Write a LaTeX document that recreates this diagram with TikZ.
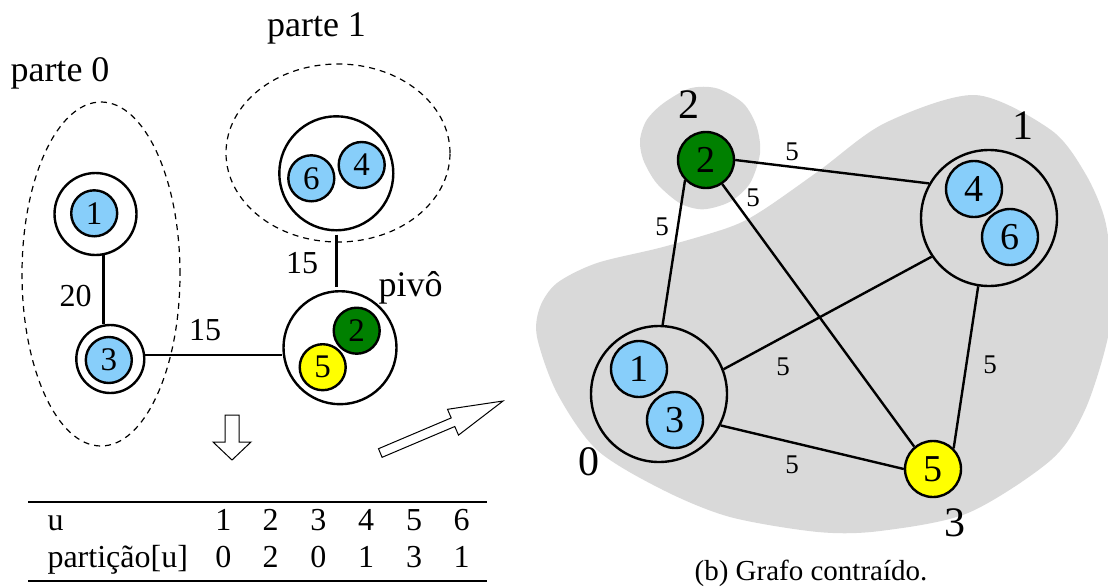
\documentclass[tikz,border=0pt]{standalone}
\usepackage{fontspec}
\setmainfont{Liberation Serif}
\usetikzlibrary{positioning, calc}
\definecolor{bluenode}{RGB}{135,206,250}
\definecolor{greennode}{HTML}{008000}
\definecolor{yellownode}{HTML}{FFFF00}
\definecolor{blobgray}{HTML}{D9D9D9}
\newcommand{\fs}[1]{\fontsize{#1}{#1}\selectfont}

\begin{document}
\begin{tikzpicture}[x=1pt, y=-1pt, line width=2.4pt,
    leftv/.style={circle, draw, fill=bluenode, inner sep=0pt, minimum size=46pt, font=\fs{33}},
    rightv/.style={circle, draw, fill=bluenode, inner sep=0pt, minimum size=56pt, font=\fs{38}},
    grp/.style={circle, draw, inner sep=0pt, minimum size=#1},
    txt/.style={font=\fs{32}, anchor=base},
    wlabel/.style={font=\fs{27}},
    plabel/.style={font=\fs{42}},
    partline/.style={line width=1.2pt, dash pattern=on 6pt off 5pt},
    hollow/.style={line width=1pt, fill=white}]
    \useasboundingbox (0,0) rectangle (1108,587);
    % Left: partition of the graph
    \draw[partline] (101,274) ellipse [x radius=79pt, y radius=172pt];
    \draw[partline] (338,153) ellipse [x radius=112pt, y radius=89pt];
    \node[txt, font=\fs{36}] (parte0) at (60,81.7) {parte 0};
    \node[txt, font=\fs{36}] (parte1) at (316.5,36) {parte 1};
    % groups and vertices
    \node[grp=82pt] (g1) at (95.5,214) {};
    \node[leftv] (a1) at (94.2,213.3) {1};
    \node[grp=68pt] (g3) at (110.3,359) {};
    \node[leftv] (a3) at (108.8,360) {3};
    \node[grp=113pt] (piv) at (340,347.7) {};
    \node[leftv, fill=greennode] (a2) at (356.7,330.7) {2};
    \node[leftv, fill=yellownode] (a5) at (322.7,367.2) {5};
    \node[grp=114pt] (g46) at (336.3,173.3) {};
    \node[leftv] (a6) at (311.3,178.3) {6};
    \node[leftv] (a4) at (361.7,165) {4};
    % edges
    \draw (g1.-79) -- (g1.-79 |- g3.north);
    \draw (g3.7) -- (g3.7 -| piv.west);
    \draw[shorten <=3pt, shorten >=3pt] (g46.south) -- (g46.south |- piv.north);
    \node[txt] (w20) at (75.5,306.7) {20};
    \node[txt] (w15a) at (205,340) {15};
    \node[txt] (w15b) at (302,273) {15};
    \node[txt, font=\fs{36}, anchor=base west] (pivo) at (374,296.7) {pivô};
    % hollow arrows
    \draw[hollow] (225,415) -- (239,415) -- (239,442) -- (251,442) -- (232,460)
      -- (213,442) -- (225,442) -- cycle;
    \draw[hollow] (382.1,457.3) -- (454.8,426.5) -- (458.5,435.1) -- (503,401)
      -- (447.5,409.3) -- (451.2,417.9) -- (378.5,448.7) -- cycle;
    % table
    \draw[line width=1.2pt] (28,502) -- (487,502);
    \draw[line width=1.2pt] (28,581) -- (487,581);
    \node[txt, anchor=base west] (hu) at (43,530) {u};
    \node[txt, anchor=base west] (hp) at (43,567.3) {partição[u]};
    \foreach \cx/\uu/\pp [count=\i] in {223.3/1/0, 270.7/2/2, 318.3/3/0, 366/4/1, 414/5/3, 461.7/6/1} {
      \node[txt] (tu\i) at (\cx,530) {\uu};
      \node[txt] (tp\i) at (\cx,567.3) {\pp};
    }
    % Right: contracted graph
    \fill[blobgray] plot[smooth cycle] coordinates {(540,307) (557,283) (597,263)
      (663,247) (730,227) (763,210) (820,170) (885,123) (975,95) (1051,130)
      (1085,173) (1105,220) (1112,280) (1108,337) (1085,410) (1051,460)
      (968,513) (880,531) (818,532) (730,517) (663,490) (597,450) (557,393) (537,337)};
    \fill[blobgray] plot[smooth cycle] coordinates {(640,140) (643.3,160)
      (656.7,183.3) (680,203.3) (703.3,209.3) (730,201.7) (750,183.3) (760,153.3)
      (756.7,126.7) (743.3,103.3) (716.7,88.3) (690,88.3) (663.3,103.3) (646.7,120)};
    \node[grp=136pt] (c13) at (659,394) {};
    \node[rightv] (b1) at (639,369) {1};
    \node[rightv] (b3) at (675,420) {3};
    \node[grp=136pt] (c46) at (989,218) {};
    \node[rightv] (b4) at (974,189) {4};
    \node[rightv] (b6) at (1010,237) {6};
    \node[rightv, fill=greennode] (b2) at (706,160) {2};
    \node[rightv, fill=yellownode] (b5) at (933,469) {5};
    \draw (b2.east) -- (c46.150);
    \draw (b2.224) -- (c13.87);
    \draw (b2.-56) -- (b5.130);
    \draw (c46.214) -- (c13.21);
    \draw (c46.261) -- (b5.45);
    \draw (c13.-27) -- (b5.west);
    \node[wlabel] (e24) at (792,152) {5};
    \node[wlabel] (e21) at (662,227) {5};
    \node[wlabel] (e25) at (753,198) {5};
    \node[wlabel] (e41) at (783,367) {5};
    \node[wlabel] (e45) at (990,365) {5};
    \node[wlabel] (e15) at (792,465) {5};
    \node[plabel] (l2) at (689,105) {2};
    \node[plabel] (l1) at (1023,126) {1};
    \node[plabel] (l0) at (589,462) {0};
    \node[plabel] (l3) at (955,523) {3};
    \node[font=\fs{29}, anchor=base] (cap) at (811,580) {(b) Grafo contraído.};
\end{tikzpicture}
\end{document}
